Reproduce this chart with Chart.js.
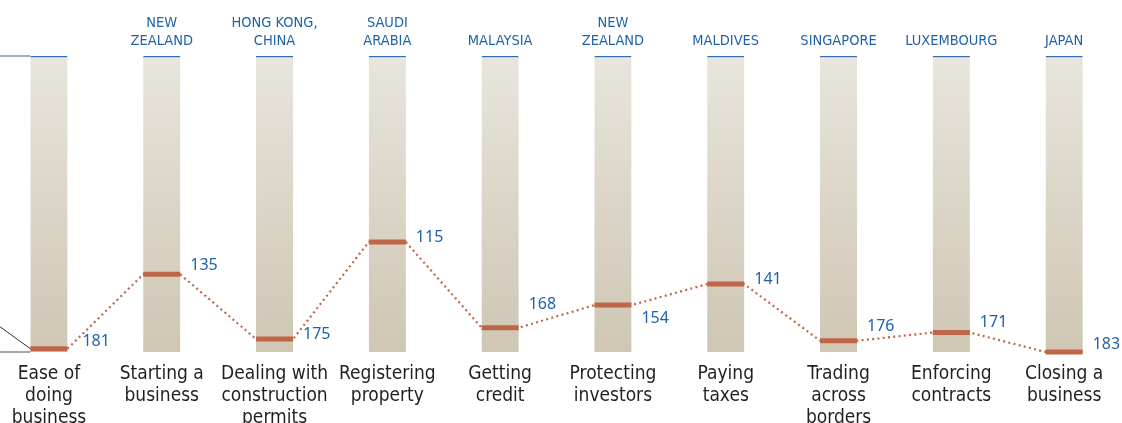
<!DOCTYPE html>
<html>
<head>
    <title>Ease of doing business rankings</title>
    <script src="https://cdn.jsdelivr.net/npm/chart.js"></script>
    <style>
        html, body { margin: 0; padding: 0; background: #fff; overflow: hidden; }
        #wrap { width: 1122px; height: 423px; position: relative; }
    </style>
</head>
<body>
    <div id="wrap"><canvas id="rankChart"></canvas></div>

    <script>
        // Categorias (rótulo inferior) e melhor economia em cada tópico (rótulo superior)
        const categories = [
            ["Ease of", "doing", "business"],
            ["Starting a", "business"],
            ["Dealing with", "construction", "permits"],
            ["Registering", "property"],
            ["Getting", "credit"],
            ["Protecting", "investors"],
            ["Paying", "taxes"],
            ["Trading", "across", "borders"],
            ["Enforcing", "contracts"],
            ["Closing a", "business"]
        ];
        const bestEconomies = [
            [""],
            ["NEW", "ZEALAND"],
            ["HONG KONG,", "CHINA"],
            ["SAUDI", "ARABIA"],
            ["MALAYSIA"],
            ["NEW", "ZEALAND"],
            ["MALDIVES"],
            ["SINGAPORE"],
            ["LUXEMBOURG"],
            ["JAPAN"]
        ];
        const ranks = [181, 135, 175, 115, 168, 154, 141, 176, 171, 183];
        const totalEconomies = 183;

        // deslocamento vertical de cada rótulo de valor (px) para não cruzar a linha
        const labelShift = [-7, -9, -5, -5, -23, 13, -5, -14, -10, -8];

        const BAR_W = 37;
        const HALF = 0.164; // meia largura da barra em unidades do eixo x
        const MARK = "#bf6649";
        const BLUE = "#1f62a9";
        const X_MIN = -0.434, X_MAX = 9.513;

        const ctx = document.getElementById("rankChart").getContext("2d");

        // Gradiente das colunas
        function columnFill(c) {
            const area = c.chart.chartArea;
            if (!area) return "#ddd6c8";
            const g = c.chart.ctx.createLinearGradient(0, area.top, 0, area.bottom);
            g.addColorStop(0, "#e8e5dc");
            g.addColorStop(1, "#cfc6b3");
            return g;
        }

        // Linhas à esquerda (restos da legenda) e rótulos dos valores
        const extras = {
            id: "extras",
            afterDatasetsDraw(chart) {
                const c = chart.ctx;
                const y = chart.scales.y;
                const barMeta = chart.getDatasetMeta(0);
                const markMeta = chart.getDatasetMeta(2);
                const left = chart.chartArea.left;
                const firstBar = barMeta.data[0];
                const barLeft = firstBar.x - BAR_W / 2;
                const yTop = y.getPixelForValue(0);
                const yBot = y.getPixelForValue(totalEconomies);

                c.save();
                c.lineWidth = 1.5;
                c.strokeStyle = "#6f97c4";
                c.beginPath(); c.moveTo(left, yTop); c.lineTo(barLeft, yTop); c.stroke();
                c.strokeStyle = "#8a8a8a";
                c.beginPath(); c.moveTo(left, yBot); c.lineTo(barLeft, yBot); c.stroke();
                c.lineWidth = 1;
                c.strokeStyle = "#333";
                const m0 = markMeta.data[0];
                c.beginPath(); c.moveTo(left, m0.y - 22); c.lineTo(barLeft, m0.y); c.stroke();

                c.font = "16px 'Noto Sans'";
                c.fillStyle = BLUE;
                c.textBaseline = "middle";
                c.textAlign = "left";
                markMeta.data.forEach((pt, i) => {
                    const gap = i === 0 ? 15 : 10;
                    c.fillText(String(ranks[i]), pt.x + BAR_W / 2 + gap, pt.y + labelShift[i]);
                });
                c.restore();
            }
        };

        // Linha pontilhada ligando as pontas dos marcadores
        const linkPoints = [];
        ranks.forEach((r, i) => {
            linkPoints.push({ x: i - HALF, y: r });
            linkPoints.push({ x: i + HALF, y: r });
        });

        function noSidePadding(s, h) {
            s.height = h;
            s.paddingLeft = 0;
            s.paddingRight = 0;
        }

        new Chart(ctx, {
            type: "bar",
            data: {
                datasets: [
                    {
                        label: "coluna",
                        data: ranks.map((r, i) => ({ x: i, y: [0, totalEconomies] })),
                        backgroundColor: columnFill,
                        borderColor: "#2f6db0",
                        borderWidth: { top: 1.5, left: 0, right: 0, bottom: 0 },
                        borderSkipped: false,
                        barThickness: BAR_W,
                        order: 3
                    },
                    {
                        type: "line",
                        label: "ligação",
                        data: linkPoints,
                        borderColor: MARK,
                        borderWidth: 2.2,
                        borderDash: [2, 3.3],
                        pointRadius: 0,
                        tension: 0,
                        clip: false,
                        order: 2
                    },
                    {
                        type: "line",
                        label: "posição",
                        data: ranks.map((r, i) => ({ x: i, y: r })),
                        showLine: false,
                        pointStyle: "line",
                        pointRadius: BAR_W / 2,
                        pointBorderWidth: 5,
                        pointBorderColor: MARK,
                        pointHoverRadius: BAR_W / 2,
                        clip: false,
                        order: 1
                    }
                ]
            },
            options: {
                responsive: true,
                maintainAspectRatio: false,
                animation: false,
                layout: { padding: 0, autoPadding: false },
                plugins: {
                    legend: { display: false },
                    tooltip: { enabled: false }
                },
                scales: {
                    x: {
                        type: "linear",
                        position: "bottom",
                        offset: false,
                        min: X_MIN,
                        max: X_MAX,
                        grid: { display: false, drawTicks: false, offset: false },
                        border: { display: false },
                        afterBuildTicks: s => { s.ticks = categories.map((c, i) => ({ value: i })); },
                        afterFit: s => noSidePadding(s, 71),
                        ticks: {
                            autoSkip: false,
                            maxRotation: 0,
                            padding: 11,
                            color: "#231f20",
                            font: { family: "'Liberation Sans Narrow', 'DejaVu Sans Condensed', sans-serif", size: 19, lineHeight: 1.16 },
                            callback: (v, i) => categories[i]
                        }
                    },
                    x2: {
                        type: "linear",
                        position: "top",
                        offset: false,
                        min: X_MIN,
                        max: X_MAX,
                        grid: { display: false, drawTicks: false, offset: false },
                        border: { display: false },
                        afterBuildTicks: s => { s.ticks = bestEconomies.map((c, i) => ({ value: i })); },
                        afterFit: s => noSidePadding(s, 56),
                        ticks: {
                            autoSkip: false,
                            maxRotation: 0,
                            padding: 6,
                            color: BLUE,
                            font: { family: "'Liberation Sans Narrow', 'DejaVu Sans Condensed', sans-serif", size: 14.5, lineHeight: 1.25 },
                            callback: (v, i) => bestEconomies[i]
                        }
                    },
                    y: {
                        display: false,
                        reverse: true,
                        min: 0,
                        max: totalEconomies
                    }
                }
            },
            plugins: [extras]
        });
    </script>
</body>
</html>
